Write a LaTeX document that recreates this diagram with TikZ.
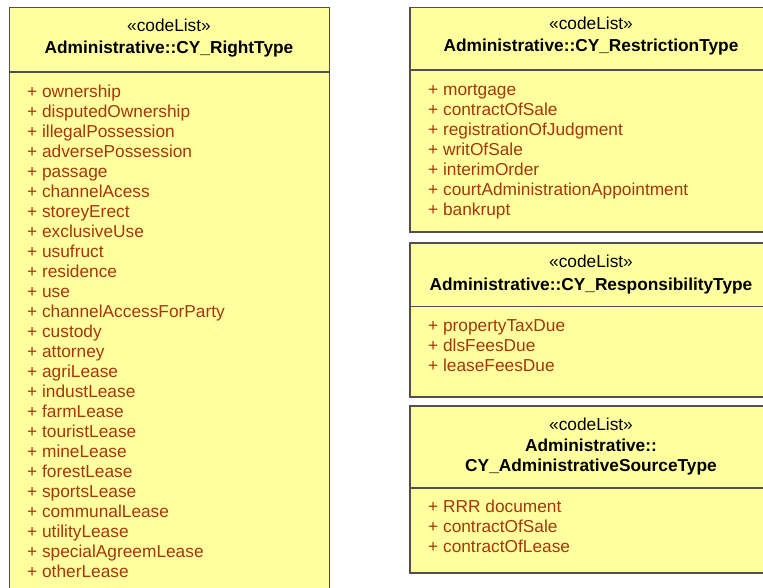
\documentclass[tikz,border=0pt]{standalone}
\usepackage{fontspec}
\setmainfont{Liberation Sans}
\definecolor{boxfill}{RGB}{255,255,160}
\definecolor{boxedge}{RGB}{80,80,80}
\definecolor{itemcol}{RGB}{165,55,10}
\begin{document}
\begin{tikzpicture}[x=1pt,y=-1pt,
  item/.style={anchor=base west, inner sep=0pt, text=itemcol, font=\fontsize{17.3}{20}\selectfont},
  stereo/.style={anchor=base, inner sep=0pt, font=\fontsize{17.3}{20}\selectfont},
  ttl/.style={anchor=base, inner sep=0pt, font=\fontsize{17.3}{20}\selectfont\bfseries},
  umlbox/.style={fill=boxfill, draw=boxedge, line width=1.6pt},
  divider/.style={draw=boxedge, line width=1.6pt}]
\useasboundingbox (0,0) rectangle (763,587);
\clip (0,0) rectangle (763,587);
\fill[white] (0,0) rectangle (763,587);
% left box
\path[umlbox] (9.5,7.5) rectangle (329.5,610);
\draw[divider] (9.5,72) -- (329.5,72);
\node[stereo] (lst) at (169,31) {«codeList»};
\node[ttl] (ltt) at (169,53.3) {Administrative::CY\_RightType};
\foreach \t [count=\i from 0] in {ownership, disputedOwnership, illegalPossession, adversePossession, passage, channelAcess, storeyErect, exclusiveUse, usufruct, residence, use, channelAccessForParty, custody, attorney, agriLease, industLease, farmLease, touristLease, mineLease, forestLease, sportsLease, communalLease, utilityLease, specialAgreemLease, otherLease}
  \node[item] (l\i) at (27,{97.3+20*\i}) {+ \t};
% right box 1
\path[umlbox] (410,7.5) rectangle (780,232);
\draw[divider] (410,70) -- (780,70);
\node[stereo] (ast) at (591,29.3) {«codeList»};
\node[ttl] (att) at (591,51.7) {Administrative::CY\_RestrictionType};
\foreach \t [count=\i from 0] in {mortgage, contractOfSale, registrationOfJudgment, writOfSale, interimOrder, courtAdministrationAppointment, bankrupt}
  \node[item] (a\i) at (428,{95+20*\i}) {+ \t};
% right box 2
\path[umlbox] (410,243) rectangle (780,397);
\draw[divider] (410,306.5) -- (780,306.5);
\node[stereo] (bst) at (591,267) {«codeList»};
\node[ttl] (btt) at (591,290) {Administrative::CY\_ResponsibilityType};
\foreach \t [count=\i from 0] in {propertyTaxDue, dlsFeesDue, leaseFeesDue}
  \node[item] (b\i) at (428,{331.7+20*\i}) {+ \t};
% right box 3
\path[umlbox] (410,406) rectangle (780,573);
\draw[divider] (410,488) -- (780,488);
\node[stereo] (cst) at (591,430) {«codeList»};
\node[ttl] (ctt) at (591,451.7) {Administrative::};
\node[ttl] (ctu) at (591,471.7) {CY\_AdministrativeSourceType};
\foreach \t [count=\i from 0] in {RRR document, contractOfSale, contractOfLease}
  \node[item] (c\i) at (428,{512.7+20*\i}) {+ \t};
\end{tikzpicture}
\end{document}
